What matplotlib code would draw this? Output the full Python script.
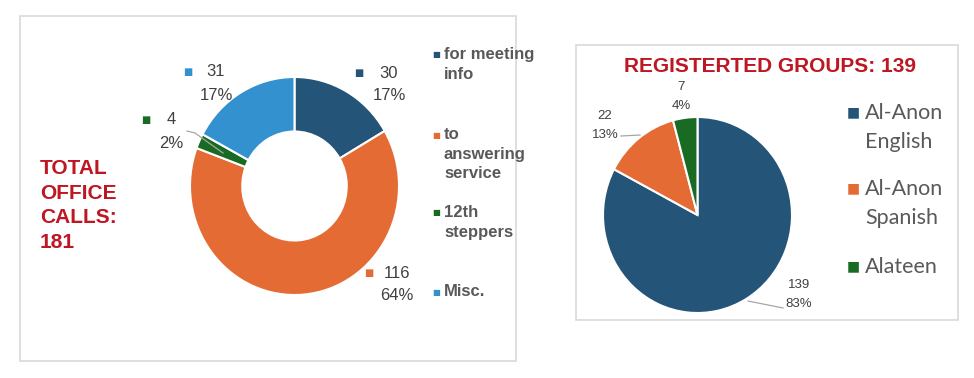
import matplotlib
matplotlib.use('Agg')
import matplotlib.pyplot as plt
from matplotlib.patches import Rectangle
from matplotlib.lines import Line2D

# 数据
call_labels = ['for meeting\ninfo', 'to\nanswering\nservice', '12th\nsteppers', 'Misc.']
call_counts = [30, 116, 4, 31]
call_colors = ['#245478', '#E46C34', '#196B24', '#3391CF']
call_title = 'TOTAL\nOFFICE\nCALLS:\n181'

group_labels = ['Al-Anon\nEnglish', 'Al-Anon\nSpanish', 'Alateen']
group_counts = [139, 22, 7]
group_colors = ['#245478', '#E46C34', '#196B24']
group_title = 'REGISTERTED GROUPS: 139'

W, H = 974, 378
RED = '#BE1622'
GRAY = '#595959'
LBL = '#404040'


def P(x, y):
    """像素坐标 -> figure 坐标"""
    return x / W, 1 - y / H


def rect(x0, y0, x1, y1):
    return [x0 / W, 1 - y1 / H, (x1 - x0) / W, (y1 - y0) / H]


fig = plt.figure(figsize=(W / 100, H / 100), dpi=100)

# 外框
for x0, y0, x1, y1 in [(20, 16, 516, 361), (576, 45, 958, 320)]:
    fig.add_artist(Rectangle(P(x0, y1), (x1 - x0) / W, (y1 - y0) / H,
                             transform=fig.transFigure, fill=False,
                             edgecolor='#D9D9D9', linewidth=1.2))

# ---------- 左：环形图 ----------
ax1 = fig.add_axes(rect(190, 77, 399, 295))
ax1.pie(call_counts, colors=call_colors, startangle=90, counterclock=False,
        wedgeprops=dict(width=0.5, edgecolor='white', linewidth=1.5))
ax1.set_aspect('auto')
ax1.set_xlim(-1, 1)
ax1.set_ylim(-1, 1)

fig.text(*P(40, 159), call_title, color=RED, fontsize=15, fontweight='bold',
         family='Liberation Sans', ha='left', va='top', linespacing=1.37)

total_calls = sum(call_counts)
# 数据标签位置（像素）：方块x, 数值中心x, 行y
call_lbl_pos = [(359, 389, 73), (369, 397, 273), (146, 171, 120), (188, 216, 72)]
for (sx, tx, ty), n, c in zip(call_lbl_pos, call_counts, call_colors):
    fig.text(*P(sx, ty), '■', color=c, fontsize=7, ha='center', va='center',
             family='DejaVu Sans')
    fig.text(*P(tx, ty), f'{n}', color=LBL, fontsize=12, ha='center',
             va='center', family='Liberation Sans')
    fig.text(*P(tx, ty + 23), f'{round(n / total_calls * 100)}%', color=LBL,
             fontsize=12, ha='center', va='center', family='Liberation Sans')

xs, ys = zip(P(187, 131), P(195, 133), P(223, 153))
fig.add_artist(Line2D(xs, ys, transform=fig.transFigure, color='#A6A6A6', lw=0.9))

# 图例
call_leg_y = [55, 135, 213, 292]
for lab, c, y in zip(call_labels, call_colors, call_leg_y):
    fig.text(*P(436, y), '■', color=c, fontsize=6, ha='center', va='center',
             family='DejaVu Sans')
    fig.text(*P(444, y - 8), lab, color=GRAY, fontsize=12, fontweight='bold',
             ha='left', va='top', linespacing=1.38, family='Liberation Sans')

# ---------- 右：饼图 ----------
ax2 = fig.add_axes(rect(603, 117, 792, 313))
ax2.pie(group_counts, colors=group_colors, startangle=90, counterclock=False,
        wedgeprops=dict(edgecolor='white', linewidth=1.5))
ax2.set_aspect('auto')
ax2.set_xlim(-1, 1)
ax2.set_ylim(-1, 1)

fig.text(*P(770, 67), group_title, color=RED, fontsize=15, fontweight='bold',
         ha='center', va='center', family='Liberation Sans')

total_groups = sum(group_counts)
group_lbl_pos = [(799, 285), (605, 116), (681, 87)]
for (tx, ty), n in zip(group_lbl_pos, group_counts):
    fig.text(*P(tx, ty), f'{n}', color=LBL, fontsize=9.5, ha='center',
             va='center', family='Liberation Sans')
    fig.text(*P(tx, ty + 19), f'{round(n / total_groups * 100)}%', color=LBL,
             fontsize=9.5, ha='center', va='center', family='Liberation Sans')

for pts in [[(621, 136), (640, 135)], [(748, 301), (783, 308)]]:
    xs, ys = zip(*[P(*p) for p in pts])
    fig.add_artist(Line2D(xs, ys, transform=fig.transFigure, color='#A6A6A6', lw=0.9))

group_leg_y = [112, 188, 266]
for lab, c, y in zip(group_labels, group_colors, group_leg_y):
    fig.text(*P(853, y), '■', color=c, fontsize=10, ha='center', va='center',
             family='DejaVu Sans')
    fig.text(*P(865, y - 9), lab, color=GRAY, fontsize=15.5,
             ha='left', va='top', linespacing=1.55, family='Lato')

plt.savefig('out.png', dpi=100)
plt.close()
